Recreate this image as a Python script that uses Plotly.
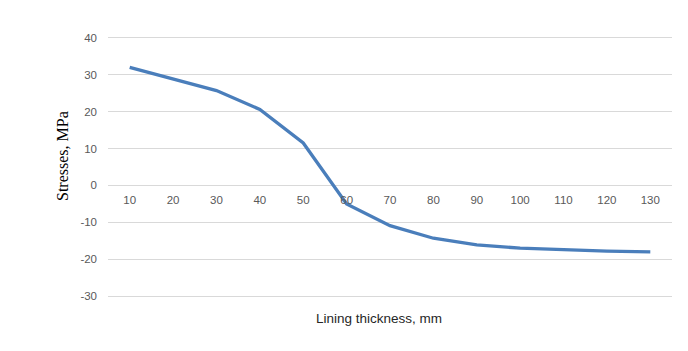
import plotly.graph_objects as go

thickness = ["10", "20", "30", "40", "50", "60", "70", "80", "90", "100", "110", "120", "130"]
stress = [32.0, 28.9, 25.7, 20.6, 11.5, -5.0, -10.9, -14.3, -16.1, -17.0, -17.5, -17.8, -18.0]
y_ticks = [-30, -20, -10, 0, 10, 20, 30, 40]
y_tick_text = ["-30", "-20", "-10", "0", "10", "20", "30", "40"]

y_min, y_max = -30.5, 40.5

fig = go.Figure()
fig.add_trace(go.Scatter(
    x=thickness, y=stress, mode="lines",
    line=dict(color="#4a7ebb", width=3.3),
    showlegend=False, hoverinfo="x+y",
))

fig.update_layout(
    width=688, height=351,
    margin=dict(l=108, r=16, t=36, b=53),
    paper_bgcolor="white", plot_bgcolor="white",
    xaxis=dict(
        type="category",
        range=[-0.5, len(thickness) - 0.5],
        anchor="free",
        position=(0 - y_min) / (y_max - y_min),
        showgrid=False, zeroline=False, showline=False,
        ticks="", ticklabelstandoff=6,
        tickfont=dict(family="Liberation Sans, Arial, sans-serif", size=11.5, color="#595959"),
    ),
    yaxis=dict(
        range=[y_min, y_max],
        tickvals=y_ticks, ticktext=y_tick_text,
        showgrid=True, gridcolor="#d9d9d9", gridwidth=1,
        zeroline=False, showline=False, ticks="",
        ticklabelstandoff=10,
        tickfont=dict(family="Liberation Sans, Arial, sans-serif", size=11.5, color="#595959"),
    ),
    annotations=[
        dict(text="Lining thickness, mm", xref="paper", yref="paper",
             x=(379 - 108) / (672 - 108), y=-(318 - 298) / (298 - 36),
             xanchor="center", yanchor="middle", showarrow=False,
             font=dict(family="Liberation Sans, Arial, sans-serif", size=13.5, color="#262626")),
        dict(text="Stresses, MPa", xref="paper", yref="paper",
             x=-(108 - 62) / (672 - 108), y=(298 - 156) / (298 - 36),
             xanchor="center", yanchor="middle", showarrow=False, textangle=-90,
             font=dict(family="Liberation Serif, Times New Roman, serif", size=16, color="#000000")),
    ],
)

fig.write_html("out.html")
